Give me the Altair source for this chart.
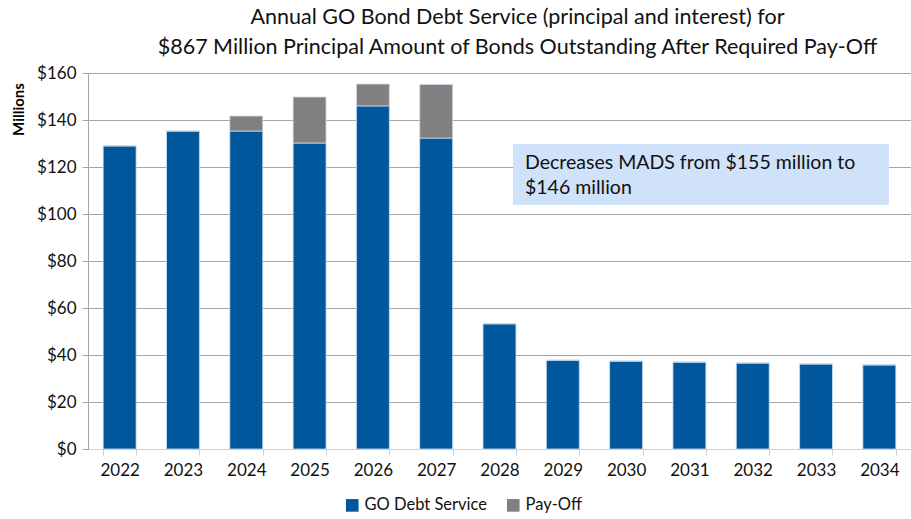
import altair as alt
import pandas as pd

years = ["2022", "2023", "2024", "2025", "2026", "2027", "2028",
         "2029", "2030", "2031", "2032", "2033", "2034"]
go_debt_service = [129.0, 135.3, 135.3, 130.2, 146.0, 132.3, 53.3,
                   37.8, 37.4, 37.0, 36.6, 36.2, 35.8]
pay_off = [0, 0, 6.4, 19.6, 9.3, 22.8, 0, 0, 0, 0, 0, 0, 0]
series = ["GO Debt Service", "Pay-Off"]
colors = ["#00579B", "#808080"]
title_lines = ["Annual GO Bond Debt Service (principal and interest) for",
               "$867 Million Principal Amount of Bonds Outstanding After Required Pay-Off"]
note_lines = ["Decreases MADS from $155 million to", "$146 million"]

rows = []
for i, y in enumerate(years):
    rows.append({"year": y, "series": series[0], "value": go_debt_service[i], "ord": 0})
    rows.append({"year": y, "series": series[1], "value": pay_off[i], "ord": 1})
df = pd.DataFrame(rows)

FONT = "Lato"

bars = alt.Chart(df).mark_bar(stroke="#c9dcee", strokeWidth=0.8).encode(
    x=alt.X("year:N", sort=years,
            scale=alt.Scale(paddingInner=0.48, paddingOuter=0.24),
            axis=alt.Axis(title=None, labelAngle=0, labelFontSize=17, labelFont=FONT,
                          labelColor="#111", labelPadding=7, tickBand="extent",
                          domainColor="#d0d0d0", tickColor="#d0d0d0", tickSize=6)),
    y=alt.Y("value:Q", stack="zero",
            scale=alt.Scale(domain=[0, 160], nice=False),
            axis=alt.Axis(title="Millions", values=list(range(0, 161, 20)), format="$,.0f",
                          labelFontSize=17, labelFont=FONT, labelColor="#111", labelPadding=6,
                          titleFont=FONT, titleFontSize=15, titleFontWeight="bold",
                          titleColor="#000", titleAngle=-90, titleX=-70, titleY=36,
                          titleAlign="center", titleBaseline="middle",
                          gridColor="#a6a6a6", domainColor="#a6a6a6",
                          tickColor="#a6a6a6", tickSize=6)),
    color=alt.Color("series:N", sort=series,
                    scale=alt.Scale(domain=series, range=colors),
                    legend=alt.Legend(title=None, orient="none", direction="horizontal",
                                      legendX=256, legendY=424, symbolType="square",
                                      symbolSize=160, symbolStrokeWidth=0, labelOffset=4,
                                      labelFontSize=16.5, labelFont=FONT, labelColor="#111",
                                      columnPadding=18)),
    order=alt.Order("ord:Q"),
)

note_df = pd.DataFrame({"top": [129.8], "bottom": [103.8]})
box = alt.Chart(note_df).mark_rect(color="#cfe2fa").encode(
    x=alt.value(425), x2=alt.value(801),
    y=alt.Y("top:Q"), y2=alt.Y2("bottom:Q"),
)

text_df = pd.DataFrame({"t": note_lines, "yv": [121.8, 111.2]})
note = alt.Chart(text_df).mark_text(align="left", baseline="middle", fontSize=19.5,
                                    font=FONT, color="#111").encode(
    x=alt.value(437), y=alt.Y("yv:Q"), text="t:N")

chart = alt.layer(bars, box, note).properties(
    width=823, height=376,
    padding={"left": 88, "top": 73, "right": 0, "bottom": 70},
    autosize=alt.AutoSizeParams(type="none"),
    title=alt.TitleParams(title_lines, fontSize=21.5, font=FONT, fontWeight="normal",
                          color="#111", anchor="middle", dx=18, offset=6, lineHeight=30),
).configure_view(stroke=None)

chart.save("out.html", embed_options={"renderer": "svg", "actions": False})
